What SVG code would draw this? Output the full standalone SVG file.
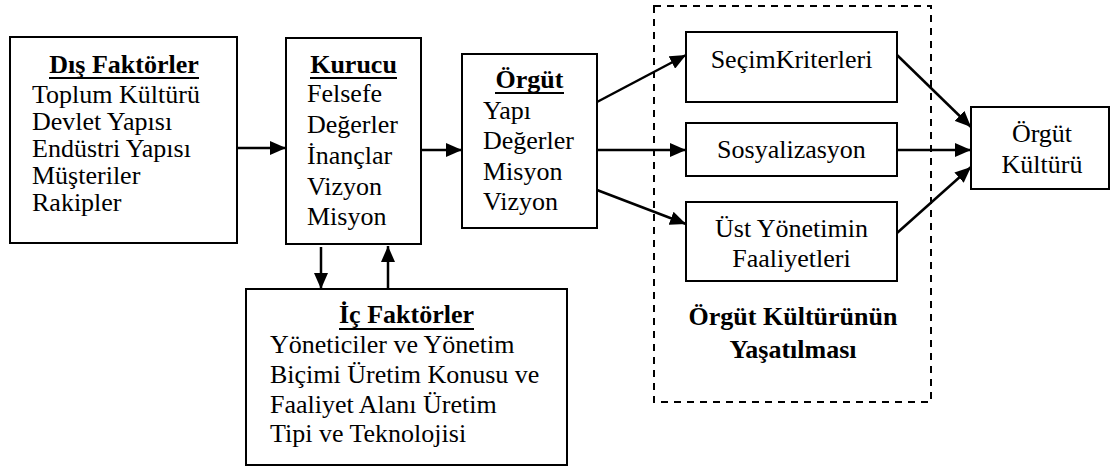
<svg xmlns="http://www.w3.org/2000/svg" width="1110" height="467" viewBox="0 0 1110 467">
<style>
.box{fill:#fff;stroke:#000;stroke-width:2}
.t{font-family:'Liberation Serif','Times New Roman',Tinos,'Nimbus Roman','Nimbus Roman No9 L','TeX Gyre Termes',FreeSerif,'Noto Serif','DejaVu Serif',Times,serif;font-size:26px;fill:#000}
.b{font-weight:bold}
.c{text-anchor:middle}
.ul{stroke:#000;stroke-width:2}
.conn line{stroke:#000;stroke-width:2.5;marker-end:url(#ah)}
.dash{fill:none;stroke:#000;stroke-width:2;stroke-dasharray:7 6}
</style>
<defs>
<marker id="ah" markerUnits="userSpaceOnUse" markerWidth="16" markerHeight="14" viewBox="0 0 16 14" refX="16" refY="7" orient="auto">
<path d="M0,0 L16,7 L0,14 Z" fill="#000"/>
</marker>
</defs>
<rect width="1110" height="467" fill="#fff"/>
<g id="group-yasatilmasi">
<rect class="dash" x="654" y="6" width="277" height="396"/>
<text class="t b c" x="793" y="325">Örgüt Kültürünün</text>
<text class="t b c" x="793" y="358">Yaşatılması</text>
</g>
<g id="dis-faktorler">
<rect class="box" x="10" y="37" width="227" height="206"/>
<text class="t b c" x="124" y="73">Dış Faktörler</text>
<line class="ul" x1="49" y1="78" x2="199" y2="78"/>
<text class="t" x="32" y="103">Toplum Kültürü</text>
<text class="t" x="32" y="130">Devlet Yapısı</text>
<text class="t" x="32" y="157">Endüstri Yapısı</text>
<text class="t" x="32" y="184">Müşteriler</text>
<text class="t" x="32" y="211">Rakipler</text>
</g>
<g id="kurucu">
<rect class="box" x="286" y="38" width="135" height="206"/>
<text class="t b c" x="353.5" y="73">Kurucu</text>
<line class="ul" x1="310" y1="78" x2="397" y2="78"/>
<text class="t" x="307" y="102">Felsefe</text>
<text class="t" x="307" y="133">Değerler</text>
<text class="t" x="307" y="164">İnançlar</text>
<text class="t" x="307" y="195">Vizyon</text>
<text class="t" x="307" y="225">Misyon</text>
</g>
<g id="orgut">
<rect class="box" x="462" y="54" width="135" height="174"/>
<text class="t b c" x="529.5" y="88">Örgüt</text>
<line class="ul" x1="495" y1="93" x2="564" y2="93"/>
<text class="t" x="483" y="119">Yapı</text>
<text class="t" x="483" y="149">Değerler</text>
<text class="t" x="483" y="180">Misyon</text>
<text class="t" x="483" y="210">Vizyon</text>
</g>
<g id="ic-faktorler">
<rect class="box" x="246" y="289" width="321" height="176"/>
<text class="t b c" x="406.5" y="323">İç Faktörler</text>
<line class="ul" x1="339" y1="329" x2="474" y2="329"/>
<text class="t" x="270" y="353">Yöneticiler ve Yönetim</text>
<text class="t" x="270" y="383">Biçimi Üretim Konusu ve</text>
<text class="t" x="270" y="413">Faaliyet Alanı Üretim</text>
<text class="t" x="270" y="442">Tipi ve Teknolojisi</text>
</g>
<g id="secim-kriterleri">
<rect class="box" x="686" y="32" width="211" height="70"/>
<text class="t c" x="791.5" y="68">SeçimKriterleri</text>
</g>
<g id="sosyalizasyon">
<rect class="box" x="686" y="123" width="211" height="53"/>
<text class="t c" x="791.5" y="158">Sosyalizasyon</text>
</g>
<g id="ust-yonetim">
<rect class="box" x="686" y="202" width="211" height="79"/>
<text class="t c" x="791.5" y="237">Üst Yönetimin</text>
<text class="t c" x="791.5" y="267">Faaliyetleri</text>
</g>
<g id="orgut-kulturu">
<rect class="box" x="971" y="107" width="138" height="82"/>
<text class="t c" x="1042" y="142">Örgüt</text>
<text class="t c" x="1042" y="173">Kültürü</text>
</g>
<g id="connectors" class="conn">
<line x1="237" y1="148" x2="286" y2="148"/>
<line x1="421" y1="150" x2="462" y2="150"/>
<line x1="597" y1="102" x2="686" y2="55"/>
<line x1="597" y1="150" x2="686" y2="150"/>
<line x1="597" y1="190" x2="686" y2="224"/>
<line x1="897" y1="55" x2="971" y2="127"/>
<line x1="897" y1="150" x2="971" y2="150"/>
<line x1="897" y1="233" x2="971" y2="167"/>
<line x1="321" y1="247" x2="321" y2="289"/>
<line x1="388" y1="289" x2="388" y2="246"/>
</g>
</svg>
